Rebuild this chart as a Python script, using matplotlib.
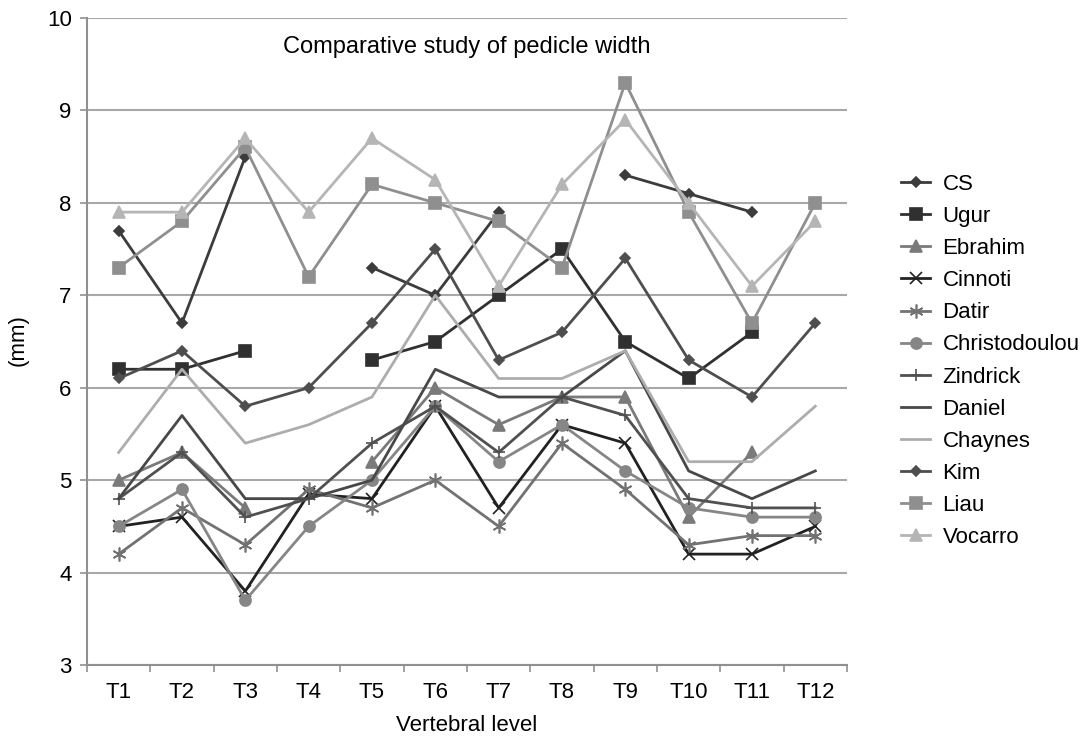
import numpy as np
import matplotlib
matplotlib.use('Agg')
import matplotlib.pyplot as plt

nan = np.nan

# vertebral levels
levels = ['T1', 'T2', 'T3', 'T4', 'T5', 'T6', 'T7', 'T8', 'T9', 'T10', 'T11', 'T12']

# pedicle width (mm) per study, NaN = no data
cs = [7.7, 6.7, 8.5, nan, 7.3, 7.0, 7.9, nan, 8.3, 8.1, 7.9, nan]
ugur = [6.2, 6.2, 6.4, nan, 6.3, 6.5, 7.0, 7.5, 6.5, 6.1, 6.6, nan]
ebrahim = [5.0, 5.3, 4.7, nan, 5.2, 6.0, 5.6, 5.9, 5.9, 4.6, 5.3, nan]
cinnoti = [4.5, 4.6, 3.8, 4.85, 4.8, 5.8, 4.7, 5.6, 5.4, 4.2, 4.2, 4.5]
datir = [4.2, 4.7, 4.3, 4.9, 4.7, 5.0, 4.5, 5.4, 4.9, 4.3, 4.4, 4.4]
christodoulou = [4.5, 4.9, 3.7, 4.5, 5.0, 5.8, 5.2, 5.6, 5.1, 4.7, 4.6, 4.6]
zindrick = [4.8, 5.3, 4.6, 4.8, 5.4, 5.8, 5.3, 5.9, 5.7, 4.8, 4.7, 4.7]
daniel = [4.8, 5.7, 4.8, 4.8, 5.0, 6.2, 5.9, 5.9, 6.4, 5.1, 4.8, 5.1]
chaynes = [5.3, 6.2, 5.4, 5.6, 5.9, 7.0, 6.1, 6.1, 6.4, 5.2, 5.2, 5.8]
kim = [6.1, 6.4, 5.8, 6.0, 6.7, 7.5, 6.3, 6.6, 7.4, 6.3, 5.9, 6.7]
liau = [7.3, 7.8, 8.6, 7.2, 8.2, 8.0, 7.8, 7.3, 9.3, 7.9, 6.7, 8.0]
vocarro = [7.9, 7.9, 8.7, 7.9, 8.7, 8.25, 7.1, 8.2, 8.9, 8.0, 7.1, 7.8]

plt.rcParams['font.family'] = ['Liberation Sans', 'DejaVu Sans']

fig = plt.figure(figsize=(10.82, 7.39), dpi=100)
ax = fig.add_axes([0.0804, 0.1001, 0.7024, 0.8755])

x = np.arange(len(levels))

# (label, values, colour, marker, marker size)
series = [
    ('CS', cs, '#3c3c3c', 'D', 5),
    ('Ugur', ugur, '#303030', 's', 8),
    ('Ebrahim', ebrahim, '#7a7a7a', '^', 8),
    ('Cinnoti', cinnoti, '#222222', 'x', 8),
    ('Datir', datir, '#727272', (6, 2, 0), 10),
    ('Christodoulou', christodoulou, '#868686', 'o', 8),
    ('Zindrick', zindrick, '#505050', '+', 9),
    ('Daniel', daniel, '#484848', None, 0),
    ('Chaynes', chaynes, '#adadad', None, 0),
    ('Kim', kim, '#4e4e4e', 'D', 5),
    ('Liau', liau, '#8f8f8f', 's', 8),
    ('Vocarro', vocarro, '#b5b5b5', '^', 8),
]

for name, vals, col, mk, ms in series:
    ax.plot(x, vals, color=col, lw=2, marker=mk, markersize=ms,
            markeredgewidth=1.2, markerfacecolor=col, markeredgecolor=col,
            label=name)

ax.set_ylim(3, 10)
ax.set_yticks(range(3, 11))
ax.set_xlim(-0.5, len(levels) - 0.5)
ax.set_xticks(x)
ax.set_xticklabels(levels)
ax.set_xticks(np.arange(-0.5, len(levels)), minor=True)
ax.tick_params(axis='x', which='major', length=0, pad=12, labelsize=16)
ax.tick_params(axis='x', which='minor', length=5, color='#909090', width=1.2)
ax.tick_params(axis='y', length=5, color='#909090', width=1.2, labelsize=16, pad=6)

ax.yaxis.grid(True, color='#a8a8a8', lw=1.5)
ax.set_axisbelow(True)
for s in ['top', 'right']:
    ax.spines[s].set_visible(False)
for s in ['left', 'bottom']:
    ax.spines[s].set_color('#909090')
    ax.spines[s].set_linewidth(1.5)

ax.text(0.5, 0.955, 'Comparative study of pedicle width', transform=ax.transAxes,
        ha='center', va='center', fontsize=17)
ax.set_xlabel('Vertebral level', fontsize=16, labelpad=9)
fig.text(0.017, 0.54, '(mm)', rotation=90, ha='center', va='center', fontsize=16)

fig.legend(loc='center left', bbox_to_anchor=(0.833, 0.5115), frameon=False,
           fontsize=16, handlelength=1.3, handletextpad=0.55, labelspacing=0.5,
           borderpad=0, borderaxespad=0)

fig.savefig('out.png', dpi=100)
